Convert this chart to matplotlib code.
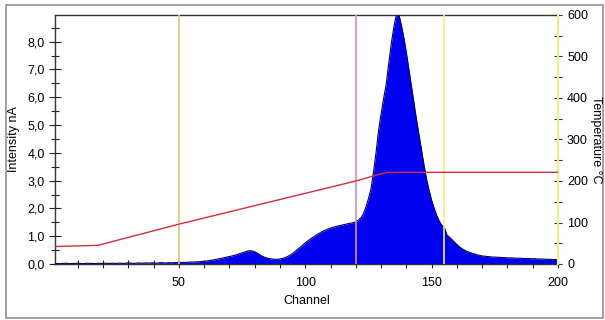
import matplotlib
matplotlib.use("Agg")
import matplotlib.pyplot as plt
from matplotlib.ticker import MultipleLocator, FuncFormatter
from matplotlib.patches import Rectangle

plt.rcParams['font.family'] = ['Liberation Sans', 'DejaVu Sans']

channels = list(range(1, 201))
intensity = [
    0.01, 0.02, 0.01, 0.02, 0.03, 0.02, 0.01, 0.02, 0.02, 0.03,
    0.02, 0.01, 0.02, 0.03, 0.02, 0.02, 0.01, 0.03, 0.02, 0.02,
    0.03, 0.02, 0.02, 0.03, 0.02, 0.03, 0.03, 0.02, 0.03, 0.04,
    0.03, 0.02, 0.03, 0.04, 0.03, 0.03, 0.04, 0.03, 0.04, 0.04,
    0.03, 0.04, 0.05, 0.04, 0.04, 0.05, 0.04, 0.05, 0.05, 0.06,
    0.05, 0.06, 0.06, 0.07, 0.07, 0.07, 0.08, 0.08, 0.09, 0.10,
    0.11, 0.12, 0.14, 0.15, 0.17, 0.19, 0.21, 0.23, 0.25, 0.27,
    0.29, 0.31, 0.34, 0.37, 0.40, 0.43, 0.46, 0.48, 0.47, 0.44,
    0.39, 0.33, 0.28, 0.24, 0.21, 0.19, 0.18, 0.17, 0.17, 0.18,
    0.20, 0.23, 0.27, 0.32, 0.38, 0.45, 0.53, 0.60, 0.68, 0.76,
    0.83, 0.90, 0.96, 1.02, 1.08, 1.13, 1.18, 1.22, 1.26, 1.29,
    1.32, 1.35, 1.37, 1.39, 1.41, 1.43, 1.45, 1.47, 1.49, 1.52,
    1.58, 1.66, 1.80, 2.05, 2.35, 2.70, 3.30, 4.00, 4.80, 5.40,
    5.95, 6.45, 7.20, 7.90, 8.50, 8.95, 9.00, 8.60, 8.15, 7.60,
    7.00, 6.40, 5.80, 5.20, 4.65, 4.10, 3.55, 3.05, 2.65, 2.30,
    2.00, 1.75, 1.55, 1.40, 1.33, 1.05, 0.97, 0.88, 0.79, 0.70,
    0.62, 0.55, 0.50, 0.45, 0.42, 0.39, 0.36, 0.33, 0.31, 0.29,
    0.28, 0.27, 0.26, 0.25, 0.25, 0.24, 0.24, 0.23, 0.23, 0.22,
    0.22, 0.22, 0.21, 0.21, 0.21, 0.20, 0.20, 0.20, 0.19, 0.19,
    0.19, 0.18, 0.18, 0.18, 0.17, 0.17, 0.17, 0.16, 0.16, 0.15,
]

temp_channels = [1, 18, 50, 120, 128, 133, 200]
temperature = [42, 45, 96, 200, 214, 221, 221]

marker_channels = [50, 120, 155]
marker_colors = ['#e0c27a', '#d9909e', '#f2f07a']

fig = plt.figure(figsize=(6.05, 3.20), dpi=100)
W, H = 605, 320
left, right, top, bottom = 55, 558, 15, 264
ax = fig.add_axes([left / W, 1 - bottom / H, (right - left) / W, (bottom - top) / H])

ax.fill_between(channels, intensity, 0, color='#0000f0', linewidth=0, zorder=2)
ax.plot(channels, intensity, color='#00006a', linewidth=0.8, zorder=3)

for c, col in zip(marker_channels, marker_colors):
    ax.axvline(c, color=col, linewidth=1.2, zorder=4)

ax.set_xlim(1, 200)
ax.set_ylim(0, 8.96)
ax.xaxis.set_major_locator(MultipleLocator(50))
ax.xaxis.set_minor_locator(MultipleLocator(10))
ax.yaxis.set_major_locator(MultipleLocator(1.0))
ax.yaxis.set_minor_locator(MultipleLocator(0.5))
ax.yaxis.set_major_formatter(FuncFormatter(lambda v, p: f"{v:.1f}".replace('.', ',')))
ax.xaxis.set_major_formatter(FuncFormatter(lambda v, p: f"{int(v)}" if v >= 50 else ""))

ax.tick_params(axis='both', which='both', direction='inout', labelsize=9, color='#222222')
ax.tick_params(axis='y', which='major', length=8, width=0.8)
ax.tick_params(axis='y', which='minor', length=6, width=0.8)
ax.tick_params(axis='x', which='major', length=6, width=0.8, pad=6)
ax.tick_params(axis='x', which='minor', length=6, width=0.8)

for s in ['top', 'left', 'bottom']:
    ax.spines[s].set_color('#333333')
    ax.spines[s].set_linewidth(1.0)
ax.spines['right'].set_visible(False)

ax.set_xlabel('Channel', fontsize=9, labelpad=5)
ax.set_ylabel('Intensity nA', fontsize=9, labelpad=5)

ax2 = ax.twinx()
ax2.plot(temp_channels, temperature, color='#d0303a', linewidth=1.0, zorder=5)
ax2.set_ylim(0, 600)
ax2.yaxis.set_major_locator(MultipleLocator(100))
ax2.yaxis.set_minor_locator(MultipleLocator(50))
ax2.tick_params(axis='y', which='both', direction='inout', labelsize=9, color='#333333')
ax2.tick_params(axis='y', which='major', length=6, width=0.8)
ax2.tick_params(axis='y', which='minor', length=6, width=0.8)
ax2.spines['right'].set_color('#eeee88')
ax2.spines['right'].set_linewidth(1.5)
for s in ['top', 'left', 'bottom']:
    ax2.spines[s].set_visible(False)

fig.text(596 / W, 1 - 140 / H, 'Temperature °C', fontsize=9, rotation=270,
         ha='center', va='center')

fig.patches.append(Rectangle((6 / W, 2 / H), 597 / W, 313 / H, transform=fig.transFigure,
                             fill=False, edgecolor='#909090', linewidth=1.2))

fig.savefig('out.png', dpi=100)
